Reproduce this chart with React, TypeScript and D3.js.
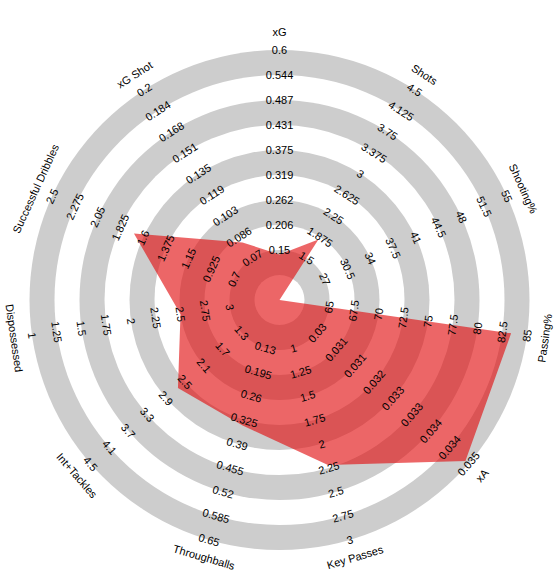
import React, { useEffect } from "react";
import * as d3 from "d3";

// Player profile radar: eleven metrics, each on its own linear scale.
const params = [
  "xG",
  "Shots",
  "Shooting%",
  "Passing%",
  "xA",
  "Key Passes",
  "Throughballs",
  "Int+Tackles",
  "Dispossessed",
  "Successful Dribbles",
  "xG Shot",
];

// [value at inner ring, value at outer ring]; Dispossessed runs inverted.
const ranges: [number, number][] = [
  [0.15, 0.6],
  [1.5, 4.5],
  [27, 55],
  [65, 85],
  [0.03, 0.035],
  [1, 3],
  [0.13, 0.65],
  [1.3, 4.5],
  [3, 1],
  [0.7, 2.5],
  [0.07, 0.2],
];

const values = [0.14, 1.83, 20, 83.4, 0.0349, 2.22, 0.34, 2.65, 2.5, 1.69, 0.082];

const tickLabels: string[][] = [
  ["0.15", "0.206", "0.262", "0.319", "0.375", "0.431", "0.487", "0.544", "0.6"],
  ["1.5", "1.875", "2.25", "2.625", "3", "3.375", "3.75", "4.125", "4.5"],
  ["27", "30.5", "34", "37.5", "41", "44.5", "48", "51.5", "55"],
  ["65", "67.5", "70", "72.5", "75", "77.5", "80", "82.5", "85"],
  ["0.03", "0.031", "0.031", "0.032", "0.033", "0.033", "0.034", "0.034", "0.035"],
  ["1", "1.25", "1.5", "1.75", "2", "2.25", "2.5", "2.75", "3"],
  ["0.13", "0.195", "0.26", "0.325", "0.39", "0.455", "0.52", "0.585", "0.65"],
  ["1.3", "1.7", "2.1", "2.5", "2.9", "3.3", "3.7", "4.1", "4.5"],
  ["3", "2.75", "2.5", "2.25", "2", "1.75", "1.5", "1.25", "1"],
  ["0.7", "0.925", "1.15", "1.375", "1.6", "1.825", "2.05", "2.275", "2.5"],
  ["0.07", "0.086", "0.103", "0.119", "0.135", "0.151", "0.168", "0.184", "0.2"],
];

const W = 560;
const H = 579;
const CX = 279.5;
const CY = 300;
const RING = 25;
const N_RINGS = 10;
const R_MIN = 50;
const R_MAX = 250;
const R_LABEL = 268;

const BAND_GREY = "#cdcdcd";
const FILL = "rgb(225,12,14)";
const FONT = "'Liberation Sans', Arial, Helvetica, sans-serif";

export default function App() {
  useEffect(() => {
    document.body.style.margin = "0";
  }, []);

  const n = params.length;
  const angle = d3.scaleLinear().domain([0, n]).range([0, 360]);
  const scales = ranges.map(([lo, hi]) =>
    d3.scaleLinear().domain([lo, hi]).range([R_MIN, R_MAX])
  );

  const polar = (deg: number, r: number): [number, number] => {
    const a = (deg * Math.PI) / 180;
    return [CX + r * Math.sin(a), CY - r * Math.cos(a)];
  };
  // Text rotated along the ring, flipped on the lower half to stay upright.
  const textRot = (deg: number) => {
    const a = (deg * Math.PI) / 180;
    return Math.cos(a) < 0 ? deg - 180 : deg;
  };

  const rings = d3.range(N_RINGS, 0, -1).map((k) => ({
    r: k * RING,
    fill: k % 2 === 0 ? BAND_GREY : "#ffffff",
  }));

  const pts = values.map((v, i) => polar(angle(i), Math.max(0, scales[i](v))));
  const line = d3.line().curve(d3.curveLinearClosed);

  return (
    <svg width={W} height={H} style={{ display: "block" }} fontFamily={FONT}>
      <rect width={W} height={H} fill="#ffffff" />
      {rings.map((c) => (
        <circle key={c.r} cx={CX} cy={CY} r={c.r} fill={c.fill} />
      ))}
      <path d={line(pts) || ""} fill={FILL} fillOpacity={0.63} />
      {params.map((p, i) => {
        const deg = angle(i);
        const [lo, hi] = ranges[i];
        const tickVals = d3.range(9).map((k) => lo + ((hi - lo) * k) / 8);
        return (
          <g key={p}>
            {tickVals.map((tv, k) => {
              const [x, y] = polar(deg, scales[i](tv));
              return (
                <text
                  key={k}
                  x={x}
                  y={y}
                  fontSize={11}
                  fill="#000"
                  textAnchor="middle"
                  dominantBaseline="central"
                  transform={`rotate(${textRot(deg)},${x},${y})`}
                >
                  {tickLabels[i][k]}
                </text>
              );
            })}
            {(() => {
              const [x, y] = polar(deg, R_LABEL);
              return (
                <text
                  x={x}
                  y={y}
                  fontSize={11}
                  fill="#000"
                  textAnchor="middle"
                  dominantBaseline="central"
                  transform={`rotate(${textRot(deg)},${x},${y})`}
                >
                  {p}
                </text>
              );
            })()}
          </g>
        );
      })}
    </svg>
  );
}
